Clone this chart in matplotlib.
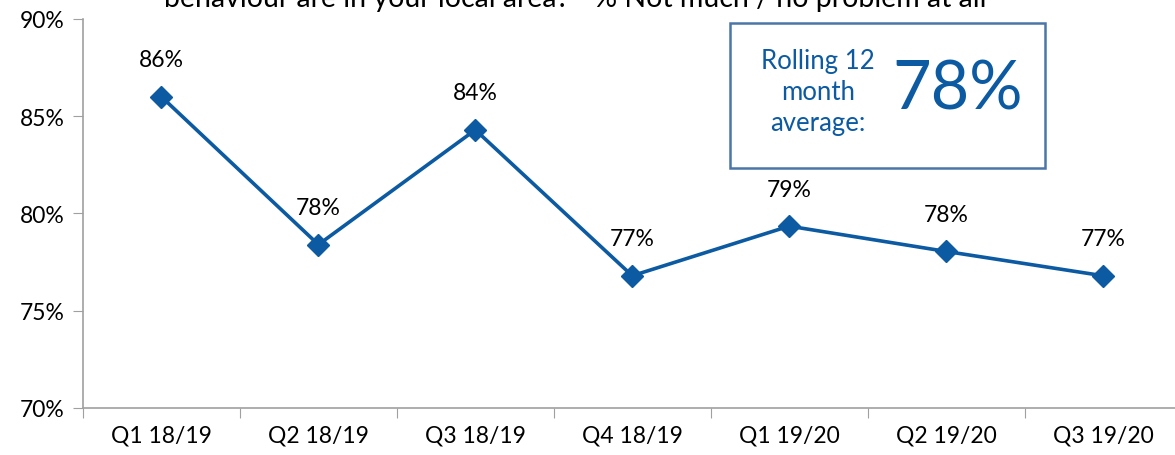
import matplotlib.pyplot as plt

quarters = ['Q1 18/19', 'Q2 18/19', 'Q3 18/19', 'Q4 18/19', 'Q1 19/20', 'Q2 19/20', 'Q3 19/20']
values = [86.0, 78.4, 84.3, 76.8, 79.35, 78.05, 76.8]
labels = ['86%', '78%', '84%', '77%', '79%', '78%', '77%']
yticks = [70, 75, 80, 85, 90]
rolling_avg = '78%'

blue = '#0b5aa2'

plt.rcParams['font.family'] = ['Lato', 'DejaVu Sans']

fig = plt.figure(figsize=(11.75, 4.56), dpi=100)
ax = fig.add_axes([83 / 1175, 1 - 409 / 456, 1098.5 / 1175, 389 / 456])

x = list(range(len(quarters)))
ax.plot(x, values, color=blue, linewidth=2.6, marker='D', markersize=11, clip_on=False)

for xi, v, lab in zip(x, values, labels):
    ax.annotate(lab, (xi, v), xytext=(0, 19), textcoords='offset points',
                ha='center', va='bottom', fontsize=16.5, color='black')

ax.set_xlim(-0.5, 6.5)
ax.set_ylim(70, 90)
ax.set_yticks(yticks)
ax.set_yticklabels([f'{t}%' for t in yticks], fontsize=16.5)
ax.set_xticks([i - 0.5 for i in range(len(quarters) + 1)])
ax.set_xticklabels([])
ax.set_xticks(x, minor=True)
ax.set_xticklabels(quarters, minor=True, fontsize=16.5)
ax.tick_params(axis='x', which='minor', length=0, pad=12)
ax.tick_params(axis='x', which='major', length=7, color='#a0a0a0')
ax.tick_params(axis='y', length=7, color='#a0a0a0', pad=6)

for s in ['top', 'right']:
    ax.spines[s].set_visible(False)
for s in ['left', 'bottom']:
    ax.spines[s].set_color('#a0a0a0')
    ax.spines[s].set_linewidth(1.2)

fig.text(575 / 1175, 1 - 7 / 456,
         'behaviour are in your local area? - % Not much / no problem at all',
         ha='center', va='baseline', fontsize=20.5)

# rolling average box
box = plt.Rectangle((730 / 1175, 1 - 169 / 456), 315 / 1175, 145 / 456,
                    transform=fig.transFigure, fill=False,
                    edgecolor='#4a76a8', linewidth=1.8)
fig.add_artist(box)
fig.text(818 / 1175, 1 - 93 / 456, 'Rolling 12\nmonth\naverage:', ha='center', va='center',
         fontsize=18.5, color=blue, linespacing=1.3)
fig.text(958 / 1175, 1 - 90 / 456, rolling_avg, ha='center', va='center',
         fontsize=48, color=blue)

fig.savefig('out.png', dpi=100)
